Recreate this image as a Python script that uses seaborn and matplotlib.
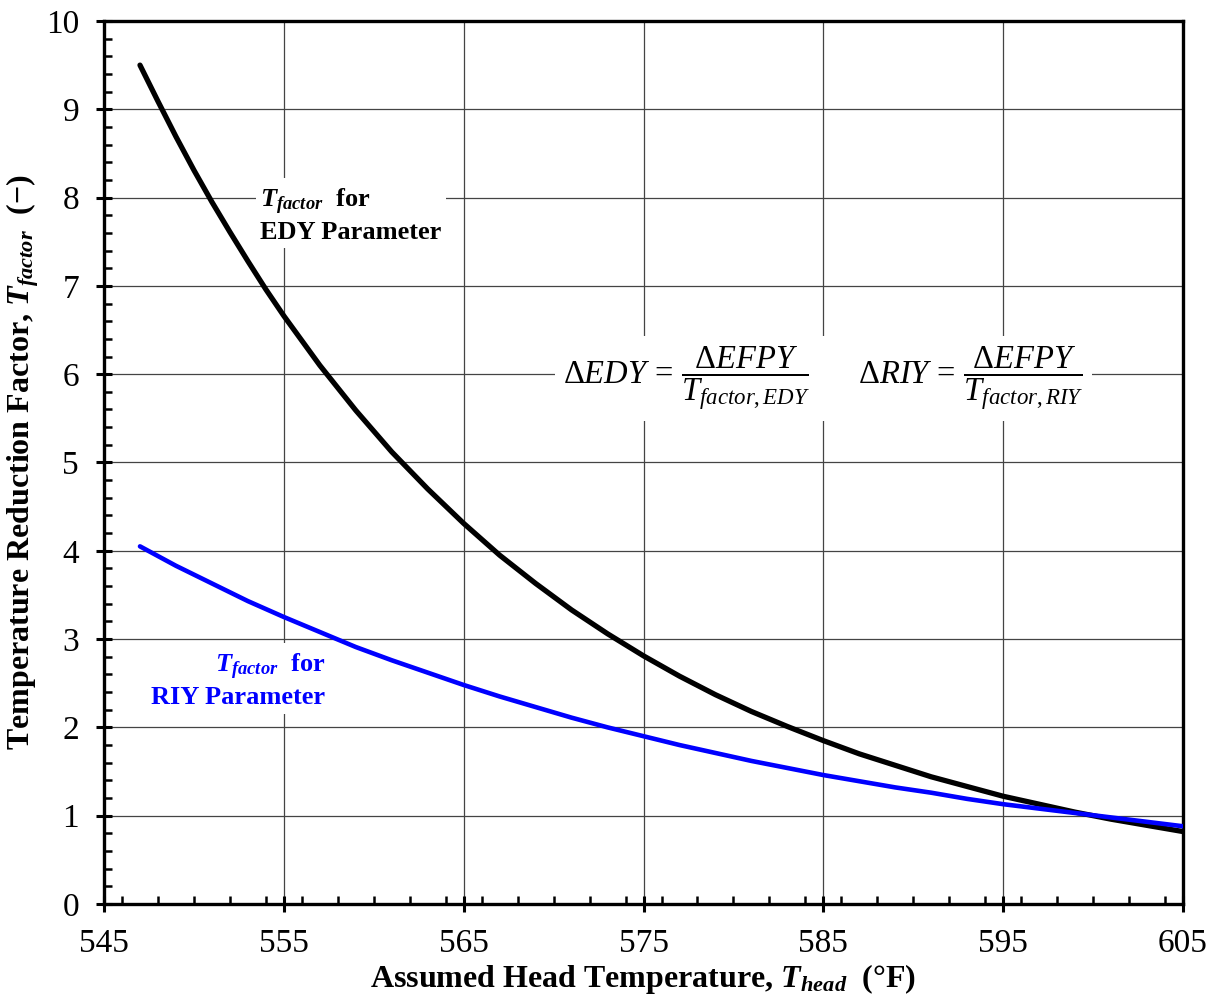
import numpy as np
import pandas as pd
import matplotlib
matplotlib.use("Agg")
import matplotlib.pyplot as plt
from matplotlib.ticker import MultipleLocator
import seaborn as sns

# head temperature (deg F) and factors
temp_f = [547, 548, 549, 550, 551, 552, 553, 554, 555, 557, 559, 561, 563, 565, 567,
          569, 571, 573, 575, 577, 579, 581, 583, 585, 587, 589, 591, 593, 595, 597,
          599, 601, 603, 605]
tfactor_edy = [9.50, 9.09, 8.69, 8.31, 7.95, 7.61, 7.28, 6.96, 6.66, 6.10, 5.59, 5.12,
               4.70, 4.31, 3.95, 3.63, 3.33, 3.06, 2.81, 2.58, 2.37, 2.18, 2.01, 1.85,
               1.70, 1.57, 1.44, 1.33, 1.22, 1.13, 1.04, 0.96, 0.89, 0.82]
tfactor_riy = [4.05, 3.94, 3.83, 3.73, 3.63, 3.53, 3.43, 3.34, 3.25, 3.08, 2.91, 2.76,
               2.62, 2.48, 2.35, 2.23, 2.11, 2.00, 1.90, 1.80, 1.71, 1.62, 1.54, 1.46,
               1.39, 1.32, 1.26, 1.19, 1.13, 1.08, 1.03, 0.98, 0.93, 0.88]

x_ticks = [545, 555, 565, 575, 585, 595, 605]
y_ticks = list(range(0, 11))

df = pd.DataFrame({
    "temp": temp_f * 2,
    "tfactor": tfactor_edy + tfactor_riy,
    "param": ["EDY"] * len(temp_f) + ["RIY"] * len(temp_f),
})

sns.set_style("white")
plt.rcParams["font.family"] = ["Liberation Serif", "DejaVu Serif"]
plt.rcParams["mathtext.fontset"] = "custom"
plt.rcParams["mathtext.rm"] = "Liberation Serif"
plt.rcParams["mathtext.it"] = "Liberation Serif:italic"
plt.rcParams["mathtext.bf"] = "Liberation Serif:bold"
plt.rcParams["mathtext.bfit"] = "Liberation Serif:bold:italic"
for k in ["text.color", "axes.labelcolor", "xtick.color", "ytick.color"]:
    plt.rcParams[k] = "black"

fig = plt.figure(figsize=(12.18, 10.08), dpi=100)
ax = fig.add_axes([0.0854, 0.1032, 0.8859, 0.876])

sns.lineplot(data=df, x="temp", y="tfactor", hue="param",
             palette={"EDY": "black", "RIY": "#0000ff"}, legend=False, ax=ax,
             sort=False)
for ln, lw, z in zip(ax.lines, [3.8, 3.3], [3, 4]):
    ln.set_linewidth(lw)
    ln.set_zorder(z)
    ln.set_solid_joinstyle("round")
    ln.set_solid_capstyle("round")

ax.set_xlim(545, 605)
ax.set_ylim(0, 10)
ax.set_xticks(x_ticks)
ax.set_yticks(y_ticks)
ax.xaxis.set_minor_locator(MultipleLocator(2))
ax.yaxis.set_minor_locator(MultipleLocator(0.2))
ax.tick_params(which="major", direction="inout", length=12, width=2.2,
               labelsize=24, pad=12, bottom=True, left=True, top=False, right=False)
ax.tick_params(which="minor", direction="in", length=6, width=1.8,
               bottom=True, left=True, top=False, right=False)
ax.grid(True, which="major", color="#444444", linewidth=0.9)
ax.set_axisbelow(True)
for s in ax.spines.values():
    s.set_linewidth(2.4)
    s.set_color("black")

ax.set_xlabel(r"Assumed Head Temperature, $\mathbfit{T}_{\mathbfit{head}}$  (°F)",
              fontsize=23, fontweight="bold", labelpad=2)
ax.set_ylabel(r"Temperature Reduction Factor, $\mathbfit{T}_{\mathbfit{factor}}$  (−)",
              fontsize=23, fontweight="bold")
ax.yaxis.set_label_coords(-0.058, 0.5)

box = dict(facecolor="white", edgecolor="none", pad=3)
ax.text(553.7, 7.8, "$\\mathbfit{T}_{\\mathbfit{factor}}$  for\nEDY Parameter",
        fontsize=19, fontweight="bold", color="black", ha="left", va="center",
        bbox=box, zorder=5, linespacing=1.25)
ax.text(557.3, 2.53, "$\\mathbfit{T}_{\\mathbfit{factor}}$  for\nRIY Parameter",
        fontsize=19, fontweight="bold", color="#0000ff", ha="right", va="center",
        multialignment="right", bbox=box, zorder=5, linespacing=1.25)
ax.text(585.0, 5.95,
        r"$\Delta EDY\, =\, \dfrac{\Delta EFPY}{T_{factor,EDY}}\qquad\Delta RIY\, =\, \dfrac{\Delta EFPY}{T_{factor,RIY}}$",
        fontsize=23.5, ha="center", va="center", bbox=dict(facecolor="white", edgecolor="none", pad=6),
        zorder=5)

fig.savefig("out.png", dpi=100)
